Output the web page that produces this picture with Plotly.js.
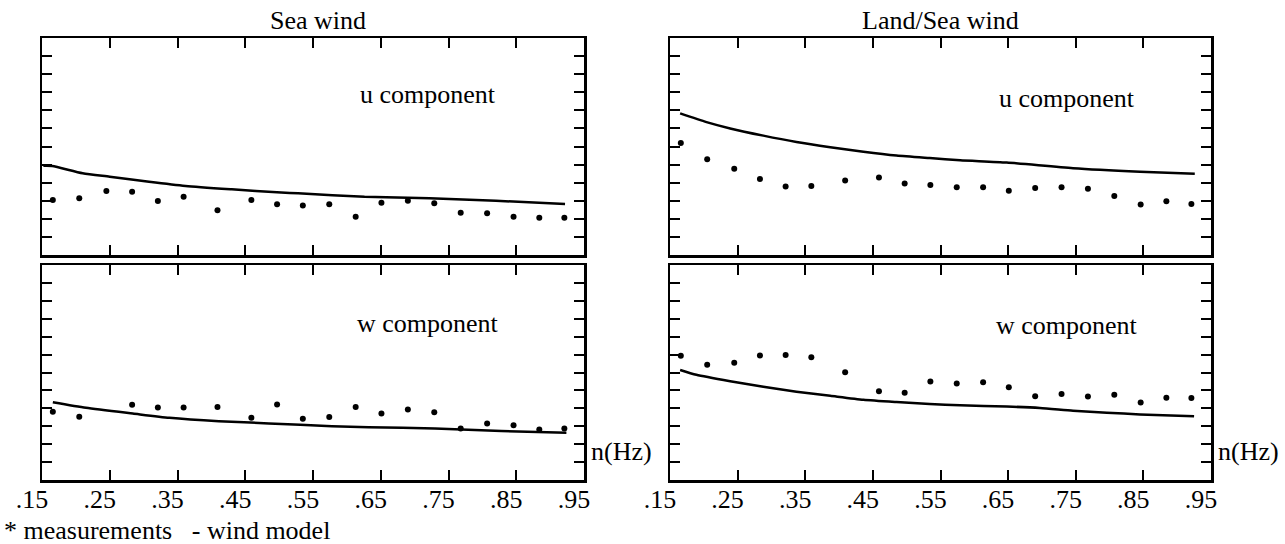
<!DOCTYPE html>
<html>
<head>
<meta charset="utf-8">
<script src="https://cdn.plot.ly/plotly-3.0.1.min.js"></script>
<style>html,body{margin:0;padding:0;background:#fff;}#chart{width:1285px;height:544px;}</style>
</head>
<body>
<div id="chart"></div>
<script>
// Measurement frequencies (Hz)
const freqs = [0.166,0.205,0.245,0.283,0.321,0.359,0.409,0.459,0.497,0.535,0.574,0.613,0.651,0.690,0.729,0.768,0.807,0.846,0.884,0.921];
// Measurements
const seaU  = [3.04,3.14,3.54,3.50,2.99,3.22,2.47,3.04,2.80,2.74,2.80,2.12,2.89,3.00,2.86,2.34,2.31,2.12,2.06,2.06];
const seaW  = [3.81,3.53,null,4.20,4.05,4.05,4.08,3.47,4.21,3.42,3.52,4.08,3.71,3.93,3.78,2.88,3.16,3.06,2.82,2.88];
const landU = [6.19,5.30,4.77,4.20,3.79,3.81,4.12,4.28,3.95,3.87,3.75,3.74,3.55,3.70,3.74,3.67,3.26,2.79,2.97,2.82];
const landW = [6.93,6.43,6.54,6.95,6.97,6.85,6.02,4.96,4.87,5.50,5.38,5.46,5.17,4.68,4.80,4.66,4.76,4.33,4.59,4.58];
// Wind model curves
const seaUModelF = [0.152,0.165,0.210,0.250,0.308,0.362,0.430,0.503,0.528,0.626,0.722,0.820,0.922];
const seaUModel  = [4.93,4.92,4.52,4.33,4.05,3.82,3.63,3.45,3.41,3.22,3.14,3.00,2.82];
const seaWModelF = [0.166,0.215,0.284,0.338,0.411,0.485,0.578,0.632,0.730,0.828,0.924];
const seaWModel  = [4.34,4.03,3.71,3.47,3.28,3.16,3.00,2.94,2.88,2.73,2.64];
const landUModelF = [0.165,0.204,0.239,0.288,0.337,0.387,0.436,0.485,0.534,0.579,0.648,0.746,0.845,0.926];
const landUModel  = [7.83,7.35,7.00,6.60,6.25,5.96,5.71,5.50,5.36,5.24,5.11,4.80,4.61,4.50];
const landWModelF = [0.165,0.189,0.239,0.288,0.337,0.387,0.436,0.485,0.534,0.579,0.648,0.697,0.746,0.796,0.845,0.925];
const landWModel  = [6.14,5.87,5.51,5.20,4.93,4.70,4.48,4.35,4.24,4.17,4.10,4.02,3.87,3.76,3.66,3.56];
// Tick labels
const xTickVals = [0.15,0.25,0.35,0.45,0.55,0.65,0.75,0.85,0.95];
const xTickText = ['.15','.25','.35','.45','.55','.65','.75','.85','.95'];
const yTickVals = [1,2,3,4,5,6,7,8,9,10,11];
const panelTitles = ['Sea wind','Land/Sea wind'];
const compLabels = ['u component','w component'];
const legendText = '* measurements\u00a0\u00a0 - wind model';
const unitLabel = 'n(Hz)';

const FONT = 'Liberation Serif';
const FS = 26;

function dots(y, xa, ya){
  return {x: freqs, y: y, xaxis: xa, yaxis: ya, type:'scatter', mode:'markers',
    marker:{color:'black', size:6}, showlegend:false, hoverinfo:'skip'};
}
function curve(x, y, xa, ya){
  return {x: x, y: y, xaxis: xa, yaxis: ya, type:'scatter', mode:'lines',
    line:{color:'black', width:2.5, shape:'spline', smoothing:0.6}, showlegend:false, hoverinfo:'skip'};
}

const data = [
  curve(seaUModelF, seaUModel, 'x2', 'y2'), dots(seaU, 'x2', 'y2'),
  curve(seaWModelF, seaWModel, 'x', 'y'),   dots(seaW, 'x', 'y'),
  curve(landUModelF, landUModel, 'x4', 'y4'), dots(landU, 'x4', 'y4'),
  curve(landWModelF, landWModel, 'x3', 'y3'), dots(landW, 'x3', 'y3')
];

const L = [42/1285, 584/1285], R = [670/1285, 1211/1285];
const UP = [1-255/544, 1-38/544], LO = [1-480/544, 1-265/544];

function xax(domain, anchor, labels){
  return {domain: domain, anchor: anchor, range:[0.15,0.95], tickmode:'array', tickvals:xTickVals, ticktext:xTickText,
    showticklabels: labels, ticks:'inside', ticklen:10, tickwidth:2, tickcolor:'black',
    showline:true, linecolor:'black', linewidth:2.5, mirror:'ticks', showgrid:false, zeroline:false,
    ticklabelshift:-10, ticklabelstandoff:-6,
    tickfont:{family:FONT, size:FS, color:'black'}, fixedrange:true};
}
function yax(domain, anchor){
  return {domain: domain, anchor: anchor, range:[0,12], tickmode:'array', tickvals:yTickVals,
    showticklabels:false, ticks:'inside', ticklen:10, tickwidth:2, tickcolor:'black',
    showline:true, linecolor:'black', linewidth:2.5, mirror:'ticks', showgrid:false, zeroline:false, fixedrange:true};
}

function ann(text, x, y, xanchor){
  return {text:text, x:x, y:y, xref:'paper', yref:'paper', xanchor:xanchor||'center', yanchor:'middle',
    showarrow:false, font:{family:FONT, size:FS, color:'black'}};
}

const layout = {
  width:1285, height:544, margin:{l:0,r:0,t:0,b:0}, paper_bgcolor:'white', plot_bgcolor:'white',
  showlegend:false,
  font:{family:FONT, size:FS, color:'black'},
  xaxis: xax(L,'y',true),   yaxis: yax(LO,'x'),
  xaxis2: xax(L,'y2',false), yaxis2: yax(UP,'x2'),
  xaxis3: xax(R,'y3',true),  yaxis3: yax(LO,'x3'),
  xaxis4: xax(R,'y4',false), yaxis4: yax(UP,'x4'),
  annotations:[
    ann(panelTitles[0], 318/1285, 1-21/544),
    ann(panelTitles[1], 941/1285, 1-21/544),
    ann(compLabels[0], 428/1285, 1-95/544),
    ann(compLabels[0], 1067/1285, 1-98/544),
    ann(compLabels[1], 428/1285, 1-323/544),
    ann(compLabels[1], 1067/1285, 1-325/544),
    ann(unitLabel, 589/1285, 1-451/544, 'left'),
    ann(unitLabel, 1216/1285, 1-451/544, 'left'),
    ann(legendText, 2/1285, 1-530/544, 'left')
  ]
};

Plotly.newPlot('chart', data, layout, {displayModeBar:false, staticPlot:true});
</script>
</body>
</html>
